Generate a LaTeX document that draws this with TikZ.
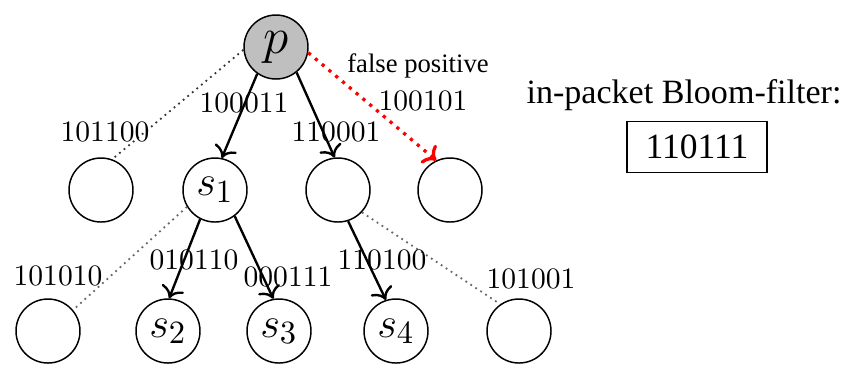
\documentclass[tikz,border=0pt]{standalone}
\usepackage{fontspec}
\newfontfamily\timesfont{Liberation Serif}
\usetikzlibrary{arrows.meta}

\newlength{\du}
\setlength{\du}{0.3378pt}

\definecolor{nodegray}{rgb}{0.750000, 0.750000, 0.750000}

\tikzset{
  bfnode/.style={circle,draw=black,line width=0.5pt,minimum size=64\du,inner sep=0pt},
  bfmath/.style={font=\fontsize{15}{17}\selectfont},
  bflabel/.style={inner sep=0pt},
  bfarrow/.style={line width=0.8pt,-{To[length=3.8pt,width=8pt]}},
  bfdots/.style={line width=0.6pt,dash pattern=on 0.6pt off 1.4pt},
  bffalse/.style={red,line width=1.1pt,dash pattern=on 1.1pt off 1.9pt,-{To[length=3.8pt,width=8pt]}}
}

\begin{document}
\begin{tikzpicture}
\pgftransformxscale{1.000000}
\pgftransformyscale{-1.000000}
\useasboundingbox (0\du,0\du) rectangle (842\du,365\du);
% setfont left to latex
\node[bfnode,fill=nodegray,font=\fontsize{16.5}{18}\selectfont] (p) at (276\du,47\du){$p$};
\node[bfnode] (a1) at (101\du,190\du){};
\node[bfnode,bfmath] (s1) at (215\du,190\du){$s_1$};
\node[bfnode] (b1) at (338\du,190\du){};
\node[bfnode] (c1) at (450\du,190\du){};
\node[bfnode] (a2) at (48\du,331\du){};
\node[bfnode,bfmath] (s2) at (168\du,331\du){$s_2$};
\node[bfnode,bfmath] (s3) at (279\du,331\du){$s_3$};
\node[bfnode,bfmath] (s4) at (396\du,331\du){$s_4$};
\node[bfnode] (b2) at (519\du,331\du){};
% links out of p
\draw[bfdots,black!80] (p.185)--(a1.70);
\draw[bfarrow] (p.235)--(s1.78);
\draw[bfarrow] (p.-51)--(b1.96);
\draw[bffalse] (p.-10)--(c1.115);
% links one hop further
\draw[bfdots,black!60] (s1.211)--(a2.40);
\draw[bfarrow] (s1.243)--(s2.88);
\draw[bfarrow] (s1.-53)--(s3.100);
\draw[bfarrow] (b1.-72)--(s4.108);
\draw[bfdots,black!60] (b1.-43)--(b2.125);
% link ids
\node[bflabel] (l1) at (105\du,132\du){101100};
\node[bflabel] (l2) at (244\du,103\du){100011};
\node[bflabel] (l3) at (336\du,132\du){110001};
\node[bflabel] (l4) at (423\du,101\du){100101};
\node[bflabel] (l5) at (58\du,276\du){101010};
\node[bflabel] (l6) at (194\du,260\du){010110};
\node[bflabel] (l7) at (288\du,277\du){000111};
\node[bflabel] (l8) at (382\du,260\du){110100};
\node[bflabel] (l9) at (531\du,279\du){101001};
\node[bflabel,font=\timesfont\fontsize{9}{11}\selectfont] (fp) at (418\du,66\du){false positive};
% setfont left to latex
\node[bflabel,font=\timesfont\fontsize{11.5}{14}\selectfont] (hdr) at (684\du,95\du){in-packet Bloom-filter:};
\node[draw=black,line width=0.6pt,inner sep=0pt,minimum width=140\du,minimum height=51\du,font=\timesfont\fontsize{12}{14}\selectfont] (bf) at (697\du,147\du){110111};
\end{tikzpicture}
\end{document}
